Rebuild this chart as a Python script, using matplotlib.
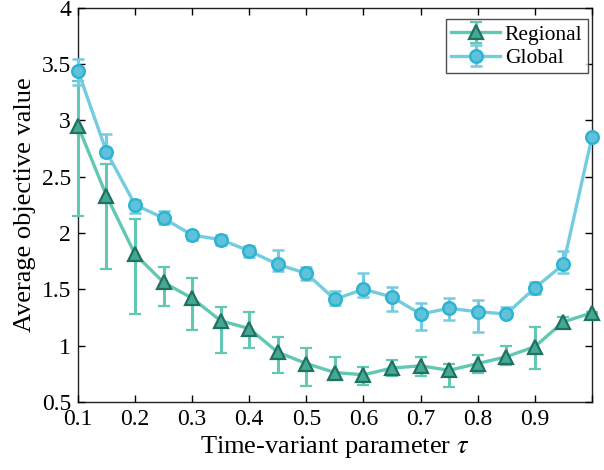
import matplotlib
matplotlib.use("Agg")
import matplotlib.pyplot as plt
import numpy as np

plt.rcParams.update({
    "font.family": "serif",
    "font.serif": ["Liberation Serif", "DejaVu Serif"],
    "mathtext.fontset": "stix",
    "xtick.direction": "in",
    "ytick.direction": "in",
    "xtick.top": True,
    "ytick.right": True,
})

tau = [0.1, 0.15, 0.2, 0.25, 0.3, 0.35, 0.4, 0.45, 0.5, 0.55,
       0.6, 0.65, 0.7, 0.75, 0.8, 0.85, 0.9, 0.95, 1.0]

regional_mean = [2.95, 2.33, 1.81, 1.56, 1.42, 1.22, 1.15, 0.94, 0.84, 0.76,
                 0.74, 0.80, 0.82, 0.78, 0.84, 0.90, 0.99, 1.21, 1.29]
regional_low = [2.15, 1.68, 1.28, 1.35, 1.14, 0.93, 0.98, 0.76, 0.64, 0.69,
                0.65, 0.73, 0.73, 0.63, 0.76, 0.83, 0.79, 1.16, 1.28]
regional_high = [3.35, 2.61, 2.12, 1.70, 1.60, 1.34, 1.30, 1.08, 0.98, 0.90,
                 0.81, 0.87, 0.90, 0.84, 0.92, 1.00, 1.16, 1.25, 1.30]

global_mean = [3.44, 2.72, 2.25, 2.13, 1.98, 1.94, 1.84, 1.72, 1.64, 1.41,
               1.50, 1.43, 1.28, 1.33, 1.30, 1.28, 1.51, 1.72, 2.85]
global_low = [3.31, 2.68, 2.18, 2.08, 1.94, 1.89, 1.79, 1.66, 1.58, 1.36,
              1.43, 1.31, 1.14, 1.23, 1.12, 1.25, 1.46, 1.64, 2.84]
global_high = [3.54, 2.88, 2.29, 2.19, 2.01, 1.98, 1.88, 1.85, 1.70, 1.48,
               1.64, 1.52, 1.38, 1.42, 1.40, 1.34, 1.56, 1.84, 2.86]

x_ticks = [0.1, 0.2, 0.3, 0.4, 0.5, 0.6, 0.7, 0.8, 0.9, 1.0]
x_labels = ["0.1", "0.2", "0.3", "0.4", "0.5", "0.6", "0.7", "0.8", "0.9", ""]
y_ticks = [0.5, 1, 1.5, 2, 2.5, 3, 3.5, 4]
y_labels = ["0.5", "1", "1.5", "2", "2.5", "3", "3.5", "4"]


def yerr(mean, low, high):
    mean = np.asarray(mean)
    return [mean - np.asarray(low), np.asarray(high) - mean]


fig = plt.figure(figsize=(6.04, 4.70), dpi=100)
ax = fig.add_axes([0.129, 0.145, 0.851, 0.839])

series = [
    (regional_mean, regional_low, regional_high, "Regional",
     dict(color="#62c8b3", marker="^", markersize=10, markerfacecolor="#45a892",
          markeredgecolor="#1f7162", markeredgewidth=1.6)),
    (global_mean, global_low, global_high, "Global",
     dict(color="#74cce0", marker="o", markersize=9, markerfacecolor="#5fc2da",
          markeredgecolor="#2db4d2", markeredgewidth=1.8)),
]
for mean, low, high, name, style in series:
    cont = ax.errorbar(tau, mean, yerr=yerr(mean, low, high), linewidth=2.4,
                       elinewidth=2.2, capsize=4, capthick=2.2, label=name,
                       **style)
    # let the end markers spill over the frame
    parts = [cont.lines[0], *cont.lines[1], *cont.lines[2]]
    for artist in parts:
        artist.set_clip_on(False)

ax.set_xlim(0.1, 1.0)
ax.set_ylim(0.5, 4)
ax.set_xticks(x_ticks)
ax.set_xticklabels(x_labels)
ax.set_yticks(y_ticks)
ax.set_yticklabels(y_labels)
ax.tick_params(labelsize=17, length=5, width=1, pad=5)
for s in ax.spines.values():
    s.set_linewidth(1.0)
    s.set_color("#222222")
    s.set_zorder(0.5)

ax.set_xlabel(r"Time-variant parameter $\tau$", fontsize=19, labelpad=3)
ax.set_ylabel("Average objective value", fontsize=19, labelpad=4)

leg = ax.legend(loc="upper right", bbox_to_anchor=(0.992, 0.97), fontsize=15.5,
                frameon=True, fancybox=False, edgecolor="#222222",
                borderpad=0.25, handlelength=2.3, handletextpad=0.2,
                labelspacing=0.15, borderaxespad=0)
leg.get_frame().set_linewidth(1.0)

fig.savefig("out.png", dpi=100)
